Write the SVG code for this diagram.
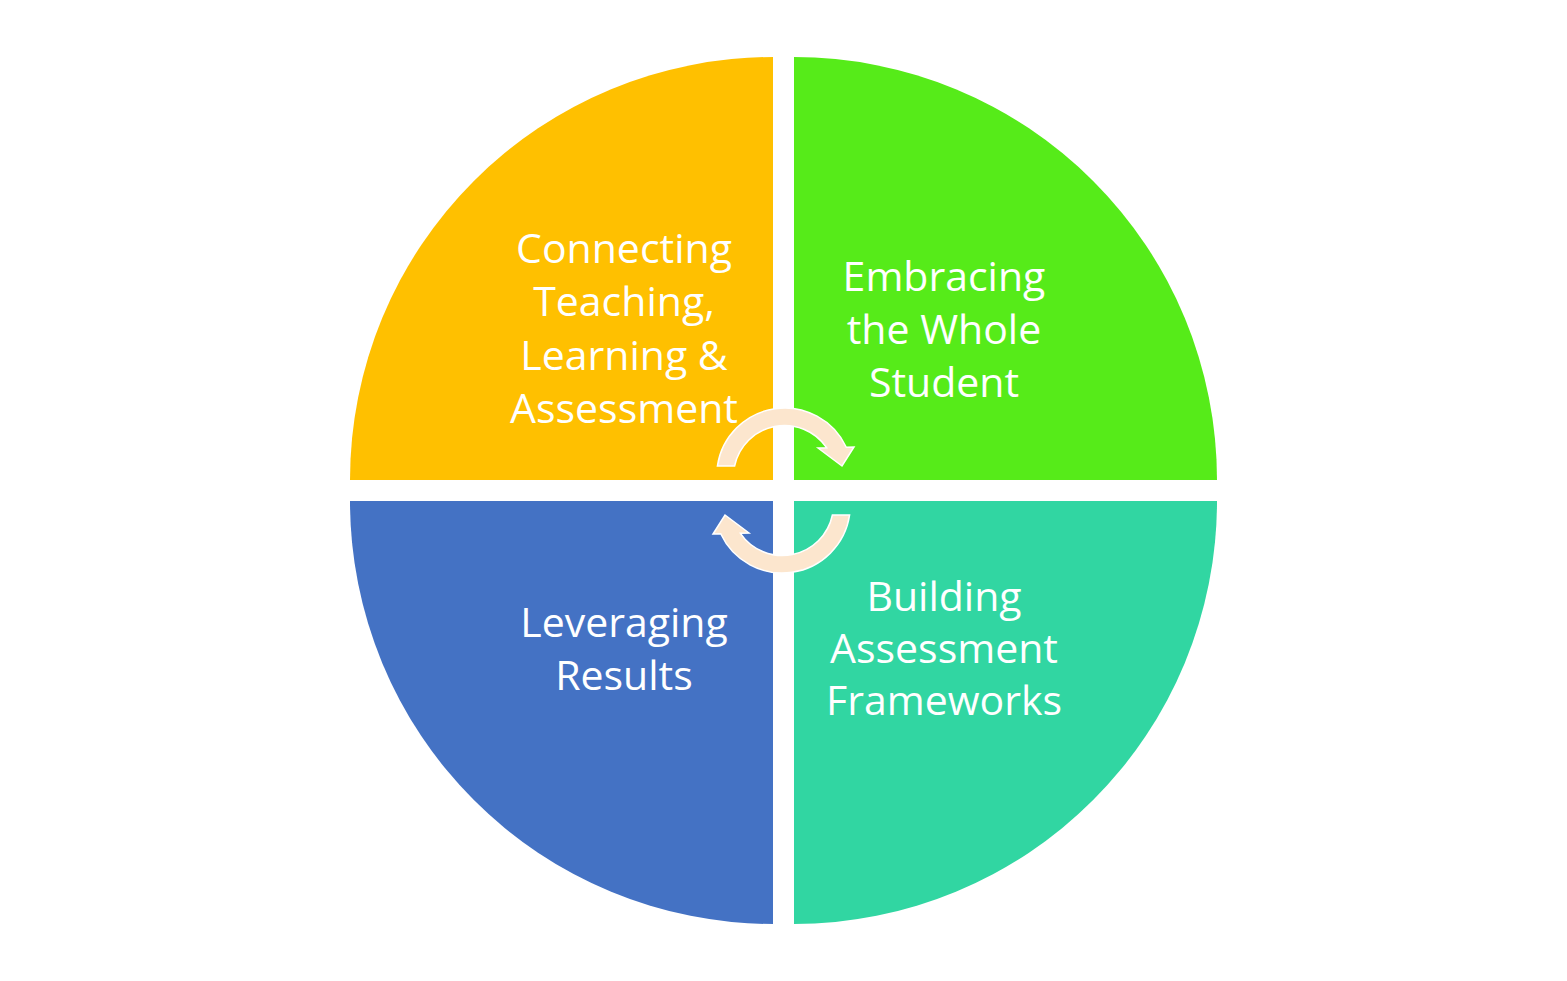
<svg xmlns="http://www.w3.org/2000/svg" xmlns:xlink="http://www.w3.org/1999/xlink" width="1567" height="981" viewBox="0 0 1567 981">
<style>
.lbl{font-family:"Open Sans","Liberation Sans",sans-serif;font-size:41px;fill:#ffffff;text-anchor:middle}
.arr{fill:#FCE6CE;stroke:#ffffff;stroke-width:1.5;stroke-linejoin:miter}
</style>
<defs>
<path id="arrowTop" class="arr" d="M 734.6,466 L 717.4,466 A 68 68 0 0 1 846.3,447.3 L 854,447 L 842,466 L 818,448 L 826.6,447.7 A 51 51 0 0 0 734.6,466 Z"/>
</defs>
<rect width="1567" height="981" fill="#ffffff"/>
<g id="node-connecting">
<path d="M 773,480 L 350,480 A 423 423 0 0 1 773,57 Z" fill="#FFC000"/>
<text class="lbl"><tspan x="624" y="263">Connecting</tspan><tspan x="624" y="316">Teaching,</tspan><tspan x="624" y="370">Learning &amp;</tspan><tspan x="624" y="423">Assessment</tspan></text>
</g>
<g id="node-embracing">
<path d="M 794,480 L 794,57 A 423 423 0 0 1 1217,480 Z" fill="#56EB19"/>
<text class="lbl"><tspan x="944" y="291">Embracing</tspan><tspan x="944" y="344">the Whole</tspan><tspan x="944" y="397">Student</tspan></text>
</g>
<g id="node-building">
<path d="M 794,501 L 1217,501 A 423 423 0 0 1 794,924 Z" fill="#31D6A2"/>
<text class="lbl"><tspan x="944" y="611">Building</tspan><tspan x="944" y="663">Assessment</tspan><tspan x="944" y="715">Frameworks</tspan></text>
</g>
<g id="node-leveraging">
<path d="M 773,501 L 773,924 A 423 423 0 0 1 350,501 Z" fill="#4472C4"/>
<text class="lbl"><tspan x="624" y="637">Leveraging</tspan><tspan x="624" y="690">Results</tspan></text>
</g>
<g id="connectors">
<use xlink:href="#arrowTop"/>
<use xlink:href="#arrowTop" transform="rotate(180 783.5 490.5)"/>
</g>
</svg>
